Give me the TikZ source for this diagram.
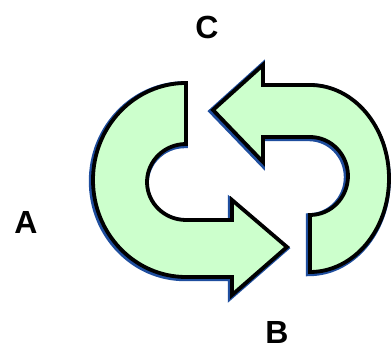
\documentclass[tikz,border=0pt]{standalone}
\usepackage{fontspec}
\setmainfont{Liberation Sans}
\definecolor{arrowfill}{HTML}{CCFFCC}
\definecolor{glow}{HTML}{1F4E9E}
\begin{document}
\begin{tikzpicture}[x=1pt,y=-1pt,
  lbl/.style={font=\fontsize{32}{38}\selectfont\bfseries,inner sep=0pt},
  shadowline/.style={draw=glow,line width=6pt,line join=miter},
  mainline/.style={draw=black,fill=arrowfill,line width=3.8pt,line join=miter}]
\useasboundingbox (0,0) rectangle (392,352);
\def\leftarrowpath{(186,83) arc[start angle=270,end angle=90,x radius=93,y radius=97]
  -- (232,277) -- (232,295) -- (287,247) -- (232,200) -- (232,220) -- (186,220)
  arc[start angle=90,end angle=270,x radius=39,y radius=38] -- cycle}
\def\rightarrowpath{(213,110) -- (263,65) -- (263,85) -- (310,85)
  arc[start angle=270,end angle=450,x radius=79,y radius=93.5]
  -- (310,215) arc[start angle=90,end angle=-90,x radius=38,y radius=39]
  -- (263,137) -- (263,162) -- cycle}
\begin{scope}[shift={(-1.2,1.2)}]
  \path[shadowline] \leftarrowpath;
  \path[shadowline] \rightarrowpath;
\end{scope}
\path[mainline] \leftarrowpath;
\path[mainline] \rightarrowpath;
\node[lbl] (C) at (207,27) {C};
\node[lbl] (A) at (26,222) {A};
\node[lbl] (B) at (277,332) {B};
\end{tikzpicture}
\end{document}
